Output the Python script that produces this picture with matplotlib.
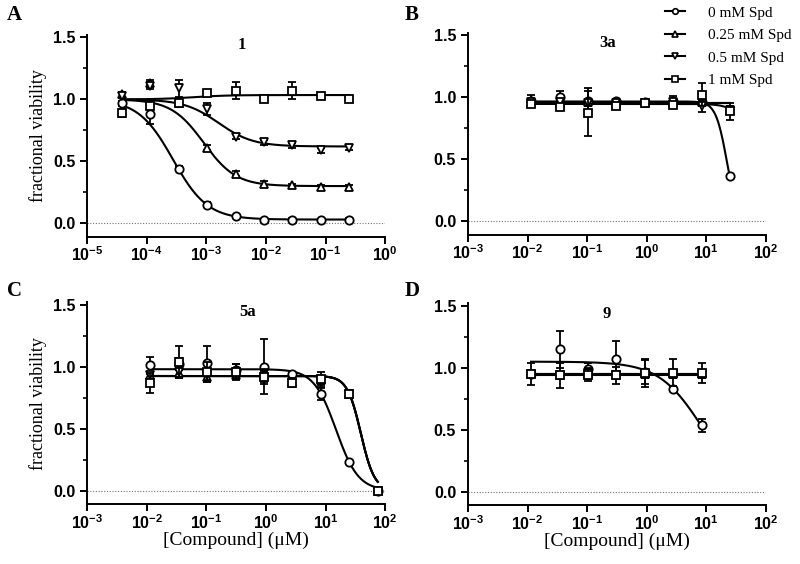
import numpy as np
import matplotlib
matplotlib.use("Agg")
import matplotlib.pyplot as plt
from matplotlib.ticker import FixedLocator, MultipleLocator, FuncFormatter, NullLocator
from matplotlib.lines import Line2D

plt.rcParams["font.family"] = "Liberation Serif"
plt.rcParams["mathtext.fontset"] = "custom"
plt.rcParams["mathtext.bf"] = "Liberation Sans:bold"
plt.rcParams["mathtext.rm"] = "Liberation Sans:bold"

series_labels = ["0 mM Spd", "0.25 mM Spd", "0.5 mM Spd", "1 mM Spd"]
series_markers = ["o", "^", "v", "s"]

# ---- panel A: compound 1
doses_A = [3.81e-5, 1.14e-4, 3.43e-4, 1.03e-3, 3.09e-3, 9.26e-3, 0.0278, 0.0833, 0.25]
A_vals = [
    [0.97, 0.88, 0.44, 0.15, 0.055, 0.027, 0.03, 0.027, 0.03],
    [1.04, 1.13, 0.97, 0.61, 0.40, 0.32, 0.31, 0.29, 0.29],
    [1.03, 1.11, 1.09, 0.92, 0.70, 0.655, 0.63, 0.59, 0.61],
    [0.89, 0.95, 0.97, 1.05, 1.07, 1.00, 1.07, 1.03, 1.00],
]
A_errs = [
    [0.02, 0.08, 0.02, 0.02, 0.01, 0.01, 0.01, 0.01, 0.01],
    [0.02, 0.03, 0.02, 0.02, 0.02, 0.02, 0.01, 0.02, 0.02],
    [0.02, 0.03, 0.07, 0.05, 0.02, 0.02, 0.02, 0.02, 0.02],
    [0.03, 0.03, 0.02, 0.02, 0.07, 0.01, 0.07, 0.02, 0.01],
]
# fit parameters: top, bottom, IC50, hill
A_fits = [(1.0, 0.03, 2.75e-4, 1.5), (1.0, 0.30, 9e-4, 1.6),
          (1.0, 0.62, 1.6e-3, 1.5), (1.0, 1.035, 6e-4, 1.5)]

# ---- panel B: compound 3a
doses_B = [0.0114, 0.0343, 0.103, 0.309, 0.926, 2.78, 8.33, 25]
B_vals = [
    [0.97, 1.00, 0.97, 0.965, 0.96, 0.97, 0.96, 0.36],
    [0.95, 0.95, 0.96, 0.95, 0.955, 0.95, 0.96, 0.90],
    [0.96, 0.96, 0.95, 0.95, 0.955, 0.96, 0.93, 0.90],
    [0.945, 0.92, 0.87, 0.93, 0.955, 0.935, 1.02, 0.885],
]
B_errs = [
    [0.05, 0.05, 0.10, 0.02, 0.01, 0.04, 0.02, 0.01],
    [0.02, 0.02, 0.02, 0.02, 0.01, 0.02, 0.03, 0.03],
    [0.02, 0.02, 0.02, 0.02, 0.01, 0.02, 0.05, 0.03],
    [0.02, 0.02, 0.18, 0.02, 0.02, 0.02, 0.09, 0.07],
]
B_fits = [(0.965, 0.0, 22, 4.7), (0.955, 0.955, 1, 1),
          (0.95, 0.95, 1, 1), (0.945, 0.0, 70, 3)]

# ---- panel C: compound 5a
doses_C = [0.0114, 0.0343, 0.103, 0.309, 0.926, 2.78, 8.33, 25, 75]
C_vals = [
    [1.01, 1.02, 1.03, 0.97, 1.00, 0.94, 0.78, 0.23, 0.0],
    [0.93, 0.95, 0.92, 0.93, 0.93, 0.88, 0.89, 0.78, 0.0],
    [0.93, 0.96, 0.93, 0.95, 0.92, 0.88, 0.88, 0.78, 0.0],
    [0.87, 1.04, 0.96, 0.96, 0.92, 0.87, 0.90, 0.78, 0.0],
]
C_errs = [
    [0.07, 0.05, 0.14, 0.05, 0.22, 0.02, 0.05, 0.01, 0.01],
    [0.03, 0.04, 0.04, 0.04, 0.04, 0.02, 0.03, 0.02, 0.01],
    [0.03, 0.04, 0.04, 0.04, 0.04, 0.02, 0.03, 0.02, 0.01],
    [0.08, 0.13, 0.08, 0.06, 0.06, 0.03, 0.06, 0.02, 0.01],
]
C_fits = [(0.98, 0.0, 15, 2.33), (0.925, 0.0, 39, 3.8),
          (0.925, 0.0, 39, 3.8), (0.925, 0.0, 39, 3.8)]

# ---- panel D: compound 9
doses_D = [0.0114, 0.0343, 0.103, 0.309, 0.926, 2.78, 8.33]
D_vals = [
    [0.95, 1.15, 0.99, 1.07, 0.97, 0.83, 0.535],
    [0.95, 0.94, 0.95, 0.94, 0.95, 0.95, 0.95],
    [0.95, 0.94, 0.96, 0.94, 0.95, 0.95, 0.95],
    [0.95, 0.94, 0.94, 0.94, 0.955, 0.96, 0.96],
]
D_errs = [
    [0.02, 0.15, 0.05, 0.15, 0.10, 0.02, 0.05],
    [0.03, 0.03, 0.04, 0.03, 0.03, 0.03, 0.03],
    [0.03, 0.03, 0.04, 0.03, 0.03, 0.03, 0.03],
    [0.09, 0.10, 0.05, 0.07, 0.11, 0.11, 0.08],
]
D_fits = [(1.05, 0.0, 8.4, 1.2), (0.95, 0.95, 1, 1),
          (0.95, 0.95, 1, 1), (0.94, 0.94, 1, 1)]


def sigmoid(x, top, bottom, ic50, hill):
    return bottom + (top - bottom) / (1 + (x / ic50) ** hill)


def sup_fmt(v, pos):
    e = int(round(np.log10(v)))
    return r"$\mathbf{10^{%d}}$" % e


panels = [
    ("A", "1", doses_A, A_vals, A_errs, A_fits, (-5, 0), [0.109, 0.58]),
    ("B", "3a", doses_B, B_vals, B_errs, B_fits, (-3, 2), [0.585, 0.584]),
    ("C", "5a", doses_C, C_vals, C_errs, C_fits, (-3, 2), [0.109, 0.106]),
    ("D", "9", doses_D, D_vals, D_errs, D_fits, (-3, 2), [0.585, 0.104]),
]
title_x = {"A": 0.52, "B": 0.47, "C": 0.537, "D": 0.466}

fig = plt.figure(figsize=(8, 5.64), dpi=100)

for letter, title, doses, vals, errs, fits, (e0, e1), (left, bottom) in panels:
    ax = fig.add_axes([left, bottom, 0.3725, 0.358])
    ax.set_xscale("log")
    ax.set_xlim(10.0 ** e0, 10.0 ** e1)
    ax.set_ylim(-0.11, 1.52)
    ax.axhline(0, ls=(0, (1, 1.5)), color="0.45", lw=0.8, zorder=1)

    xs = np.logspace(np.log10(doses[0]), np.log10(doses[-1]), 300)
    for k in range(4):
        ax.plot(xs, sigmoid(xs, *fits[k]), color="black", lw=1.5, zorder=2)
    for k in range(4):
        ax.errorbar(doses, vals[k], yerr=errs[k], fmt=series_markers[k],
                    ms=6, mfc="white", mec="black", mew=1.3, ecolor="black",
                    elinewidth=1.3, capsize=3, capthick=1.3, zorder=3 + k)

    for s in ["top", "right"]:
        ax.spines[s].set_visible(False)
    for s in ["left", "bottom"]:
        ax.spines[s].set_linewidth(1.4)

    ax.xaxis.set_major_locator(FixedLocator([10.0 ** e for e in range(e0, e1 + 1)]))
    ax.xaxis.set_minor_locator(NullLocator())
    ax.xaxis.set_major_formatter(FuncFormatter(sup_fmt))
    ax.yaxis.set_major_locator(FixedLocator([0.0, 0.5, 1.0, 1.5]))
    ax.yaxis.set_minor_locator(MultipleLocator(0.25))
    ax.yaxis.set_major_formatter(FuncFormatter(lambda v, p: "%.1f" % v))
    ax.tick_params(which="major", direction="out", length=5, width=1.4,
                   labelsize=11.5)
    ax.tick_params(axis="x", which="major", pad=2)
    ax.tick_params(which="minor", direction="out", length=3, width=1.2)
    for lab in ax.get_yticklabels():
        lab.set_fontfamily("Liberation Sans")
        lab.set_fontweight("bold")

    ax.text(title_x[letter], 0.95, title, transform=ax.transAxes,
            ha="center", va="center", fontsize=12, fontweight="bold")

    if letter in ("A", "C"):
        ax.set_ylabel("fractional viability", fontsize=13, labelpad=4)
    if letter in ("C", "D"):
        ax.set_xlabel("[Compound] (μM)", fontsize=14, labelpad=-1)

fig.text(0.009, 1 - 15 / 564, "A", fontsize=15, fontweight="bold", va="center")
fig.text(0.506, 1 - 15 / 564, "B", fontsize=15, fontweight="bold", va="center")
fig.text(0.009, 1 - 291 / 564, "C", fontsize=15, fontweight="bold", va="center")
fig.text(0.506, 1 - 291 / 564, "D", fontsize=15, fontweight="bold", va="center")

handles = [Line2D([0], [0], color="black", lw=1.5, marker=m, ms=4,
                  mfc="white", mec="black", mew=1.2) for m in series_markers]
fig.legend(handles, series_labels, loc="upper left",
           bbox_to_anchor=(665 / 800, 1 - 6 / 564), frameon=False, fontsize=11,
           handlelength=1.3, handletextpad=1.5, labelspacing=0.58,
           borderaxespad=0.0, borderpad=0.0)

fig.savefig("out.png", dpi=100)
